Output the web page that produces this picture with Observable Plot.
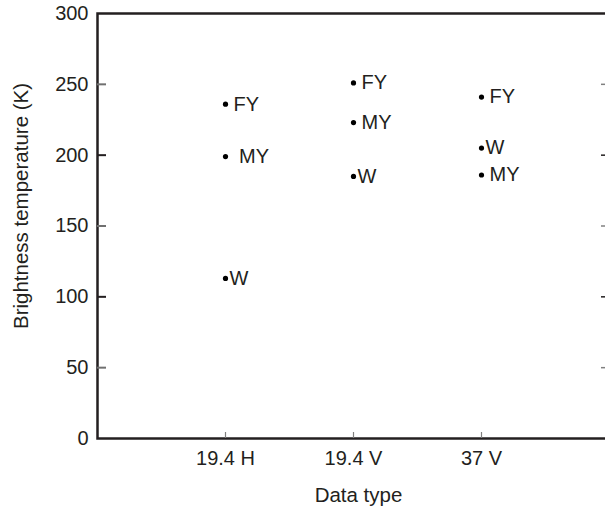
<!DOCTYPE html>
<html>
<head>
<meta charset="utf-8">
<script src="https://cdn.jsdelivr.net/npm/d3@7"></script>
<script src="https://cdn.jsdelivr.net/npm/@observablehq/plot@0.6"></script>
<style>
  html, body { margin: 0; padding: 0; background: #fff; overflow: hidden; }
  svg { display: block; }
  svg text { font-family: "Liberation Sans", Arial, sans-serif; }
</style>
</head>
<body>
<div id="chart"></div>
<script>
const categories = ["19.4 H", "19.4 V", "37 V"];
const fyValues = [236, 251, 241];
const myValues = [199, 223, 186];
const wValues = [113, 185, 205];
const fyLabels = ["FY", "FY", "FY"];
const myLabels = [" MY", "MY", "MY"];
const wLabels = ["W", "W", "W"];
const yTicksGray = [50, 150, 250];
const yTicksDark = [100, 200];
const yTickLabels = [0, 50, 100, 150, 200, 250, 300];

const rows = [];
categories.forEach((c, i) => {
  rows.push({cat: c, value: fyValues[i], label: fyLabels[i], type: "FY"});
  rows.push({cat: c, value: myValues[i], label: myLabels[i], type: "MY"});
  rows.push({cat: c, value: wValues[i], label: wLabels[i], type: "W"});
});

const ink = "#231f20";
const font = "Liberation Sans, Arial, sans-serif";
const W = 605, H = 511, mL = 97, mR = -4, mT = 13, mB = 73;
const frameW = W - mL - mR, frameH = H - mT - mB;

const chart = Plot.plot({
  width: W,
  height: H,
  marginLeft: mL,
  marginRight: mR,
  marginTop: mT,
  marginBottom: mB,
  style: {fontFamily: font, fontSize: "20px", color: ink, background: "#fff"},
  x: {type: "point", domain: categories, padding: 1},
  y: {domain: [0, 300]},
  marks: [
    Plot.axisY({anchor: "left", ticks: yTickLabels, tickSize: 0, tickPadding: 9, label: null, fontSize: 20, fill: ink, fontFamily: font}),
    Plot.axisX({anchor: "bottom", tickSize: 0, tickPadding: 12, label: null, fontSize: 20, fill: ink, fontFamily: font}),
    Plot.frame({stroke: ink, strokeWidth: 2.5}),
    Plot.tickY(yTicksGray, {y: d => d, insetRight: frameW - 9, stroke: "#707070", strokeWidth: 2}),
    Plot.tickY(yTicksDark, {y: d => d, insetRight: frameW - 9, stroke: ink, strokeWidth: 2}),
    Plot.ruleY(yTicksGray, {y: d => d, insetLeft: frameW - 8, stroke: "#808080", strokeWidth: 1.5}),
    Plot.ruleY(yTicksDark, {y: d => d, insetLeft: frameW - 8, stroke: ink, strokeWidth: 1.5}),
    Plot.ruleX(categories, {x: d => d, insetTop: frameH - 6, stroke: "#808080", strokeWidth: 1.2}),
    Plot.dot(rows, {x: "cat", y: "value", r: 2.6, fill: "#000", stroke: null}),
    Plot.text(rows.filter(d => d.type !== "W"), {x: "cat", y: "value", text: "label", textAnchor: "start", dx: 8, fontSize: 20, fill: ink, fontFamily: font}),
    Plot.text(rows.filter(d => d.type === "W"), {x: "cat", y: "value", text: "label", textAnchor: "start", dx: 4, fontSize: 20, fill: ink, fontFamily: font}),
    Plot.text(["Brightness temperature (K)"], {frameAnchor: "left", dx: -76, dy: -20, rotate: -90, textAnchor: "middle", fontSize: 20.5, fill: ink, fontFamily: font}),
    Plot.text(["Data type"], {frameAnchor: "bottom", dx: 5, dy: 63, textAnchor: "middle", fontSize: 20.5, fill: ink, fontFamily: font})
  ]
});
document.getElementById("chart").appendChild(chart);
</script>
</body>
</html>
